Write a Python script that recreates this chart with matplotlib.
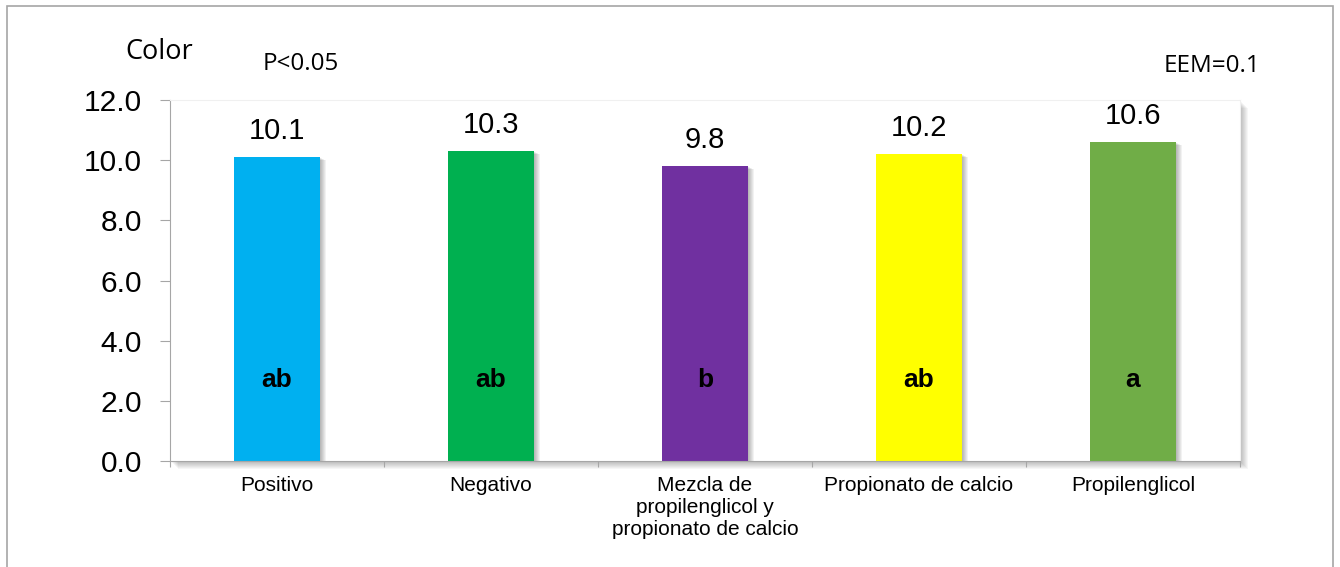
import matplotlib
matplotlib.use('Agg')
import matplotlib.pyplot as plt
from matplotlib.patches import Rectangle
from matplotlib.transforms import ScaledTranslation

# data
categorias = ['Positivo', 'Negativo', 'Mezcla de\npropilenglicol y\npropionato de calcio',
              'Propionato de calcio', 'Propilenglicol']
color_vals = [10.1, 10.3, 9.8, 10.2, 10.6]
letras = ['ab', 'ab', 'b', 'ab', 'a']
colores = ['#00B0F0', '#00B050', '#7030A0', '#FFFF00', '#70AD47']
yticks = [0, 2, 4, 6, 8, 10, 12]

W, H = 1340, 567
fig = plt.figure(figsize=(W / 100, H / 100), dpi=100)
fig.patch.set_facecolor('white')

# plot area in pixels: left 170, right 1240, top 100, bottom 461
L, R, T, B = 170, 1240, 100, 461
ax = fig.add_axes([L / W, 1 - B / H, (R - L) / W, (B - T) / H])

# soft shadow of plot area (right and bottom)
for k in range(1, 9):
    sh = Rectangle(((L + k) / W, 1 - (B + k) / H), (R - L) / W, (B - T) / H,
                   transform=fig.transFigure, facecolor='black', edgecolor='none',
                   alpha=0.035, zorder=-1)
    fig.add_artist(sh)

x = list(range(len(categorias)))
ancho = 0.40

# bar shadows
for k in range(1, 7):
    off = ScaledTranslation(k / 100, -k * 0.5 / 100, fig.dpi_scale_trans)
    sb = ax.bar(x, color_vals, width=ancho, color='black', alpha=0.05, zorder=1)
    for p in sb:
        p.set_transform(ax.transData + off)

ax.bar(x, color_vals, width=ancho, color=colores, zorder=2)

for xi, v, l in zip(x, color_vals, letras):
    ax.annotate('%.1f' % v, (xi, v), xytext=(0, 13), textcoords='offset points',
                ha='center', va='baseline', fontsize=21, family='Liberation Sans')
    ax.text(xi, 2.45, l, ha='center', va='baseline', fontsize=19,
            fontweight='bold', family='Liberation Sans', zorder=3)

ax.set_xlim(-0.5, 4.5)
ax.set_ylim(0, 12)
ax.set_yticks(yticks)
ax.set_yticklabels(['%.1f' % t for t in yticks], family='Liberation Sans', fontsize=21.5)
ax.tick_params(axis='y', length=7.2, width=0.8, color='#a6a6a6', pad=13)

ax.set_xticks([i - 0.5 for i in range(len(categorias) + 1)])
ax.set_xticklabels([])
ax.set_xticks(x, minor=True)
ax.set_xticklabels(categorias, minor=True, family='Liberation Sans', fontsize=15)
ax.tick_params(axis='x', which='major', length=4.3, width=0.8, color='#a6a6a6')
ax.tick_params(axis='x', which='minor', length=0, pad=10.5)

for s in ['left', 'bottom']:
    ax.spines[s].set_color('#a6a6a6')
    ax.spines[s].set_linewidth(0.8)
for s in ['top', 'right']:
    ax.spines[s].set_color('#f0f0f0')
    ax.spines[s].set_linewidth(0.8)

# texts outside the plot area
fig.text(159 / W, 1 - 59 / H, 'Color', ha='center', va='baseline',
         fontsize=19.5, family='Open Sans')
fig.text(263 / W, 1 - 70 / H, 'P<0.05', ha='left', va='baseline',
         fontsize=17.5, family='Open Sans')
fig.text(1260 / W, 1 - 72 / H, 'EEM=0.1', ha='right', va='baseline',
         fontsize=17.5, family='Open Sans')

# outer chart border (bottom edge is cut off)
fig.add_artist(Rectangle((7 / W, -0.05), (1333 - 7) / W, 1.05 - 6 / H,
                         transform=fig.transFigure, fill=False,
                         edgecolor='#a6a6a6', linewidth=1.2))

fig.savefig('out.png', dpi=100)
